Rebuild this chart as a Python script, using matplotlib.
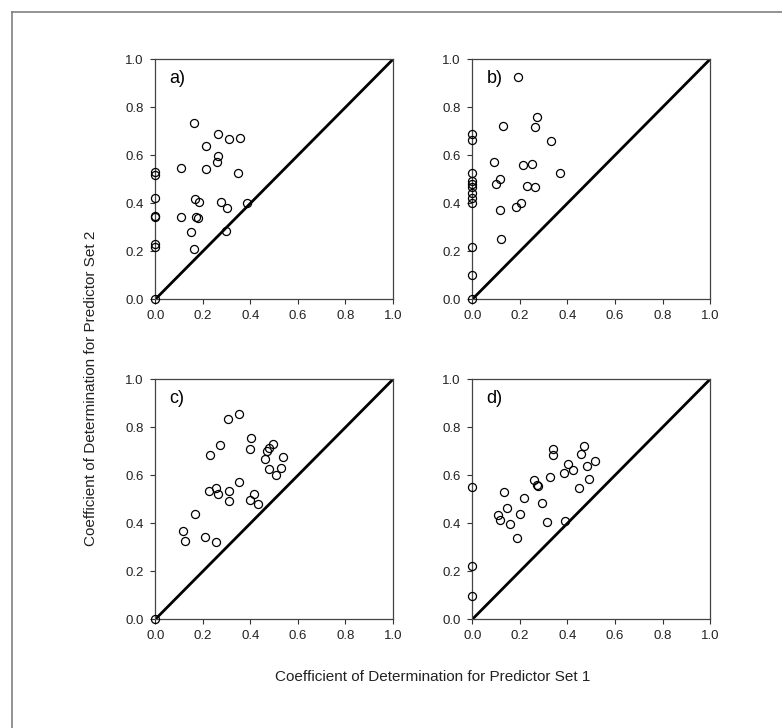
import matplotlib
matplotlib.use("Agg")
import matplotlib.pyplot as plt
from matplotlib.lines import Line2D

plt.rcParams['font.family'] = ['Liberation Sans', 'DejaVu Sans']

# panel a)
a_x = [0, 0, 0, 0, 0, 0, 0, 0, 0.108, 0.108, 0.161, 0.165, 0.182, 0.172, 0.179, 0.151, 0.164,
       0.214, 0.215, 0.262, 0.264, 0.259, 0.312, 0.358, 0.347, 0.276, 0.301, 0.298, 0.387]
a_y = [0.532, 0.518, 0.424, 0.347, 0.344, 0.231, 0.217, 0.0, 0.546, 0.344, 0.735, 0.417, 0.407, 0.344, 0.340, 0.279, 0.208,
       0.639, 0.544, 0.690, 0.596, 0.574, 0.667, 0.672, 0.528, 0.404, 0.379, 0.283, 0.400]

# panel b)
b_x = [0, 0, 0, 0, 0, 0, 0, 0, 0, 0, 0, 0,
       0.194, 0.131, 0.270, 0.263, 0.333, 0.092, 0.213, 0.249, 0.368, 0.099, 0.116,
       0.228, 0.263, 0.116, 0.183, 0.204, 0.120]
b_y = [0.688, 0.664, 0.528, 0.494, 0.481, 0.467, 0.444, 0.424, 0.403, 0.219, 0.101, 0.0,
       0.925, 0.722, 0.760, 0.719, 0.661, 0.574, 0.558, 0.564, 0.525, 0.479, 0.500,
       0.472, 0.469, 0.372, 0.383, 0.400, 0.250]

# panel c)
c_x = [0, 0.116, 0.123, 0.169, 0.207, 0.257, 0.228, 0.273, 0.306, 0.351, 0.227, 0.257, 0.264, 0.308,
       0.312, 0.352, 0.401, 0.400, 0.399, 0.414, 0.432, 0.462, 0.469, 0.480, 0.497, 0.480, 0.509,
       0.529, 0.538]
c_y = [0.0, 0.368, 0.328, 0.439, 0.342, 0.322, 0.685, 0.725, 0.835, 0.857, 0.535, 0.549, 0.521, 0.535,
       0.494, 0.574, 0.756, 0.708, 0.499, 0.524, 0.479, 0.669, 0.700, 0.713, 0.732, 0.628, 0.600,
       0.632, 0.676]

# panel d)
d_x = [0, 0, 0, 0.133, 0.217, 0.144, 0.106, 0.116, 0.157, 0.200, 0.187, 0.260, 0.274, 0.277, 0.294,
       0.325, 0.316, 0.339, 0.340, 0.389, 0.387, 0.402, 0.422, 0.447, 0.456, 0.471, 0.481, 0.491, 0.516]
d_y = [0.553, 0.224, 0.097, 0.529, 0.507, 0.465, 0.435, 0.414, 0.396, 0.439, 0.338, 0.579, 0.560, 0.556, 0.483,
       0.593, 0.406, 0.710, 0.686, 0.411, 0.611, 0.646, 0.622, 0.546, 0.690, 0.722, 0.640, 0.583, 0.661]

panels = [("a)", a_x, a_y), ("b)", b_x, b_y), ("c)", c_x, c_y), ("d)", d_x, d_y)]
ticks = [0.0, 0.2, 0.4, 0.6, 0.8, 1.0]

fig = plt.figure(figsize=(7.82, 7.28), dpi=100)

# partial outer frame (left and top only visible)
fig.add_artist(Line2D([12 / 782, 12 / 782], [0, 1 - 12 / 728], transform=fig.transFigure,
                      color='#808080', linewidth=1.2))
fig.add_artist(Line2D([12 / 782, 1], [1 - 12 / 728, 1 - 12 / 728], transform=fig.transFigure,
                      color='#808080', linewidth=1.2))

lefts = [0.1986, 0.604]
bottoms = [0.5889, 0.1493]
w, h = 0.304, 0.3297

for i, (lab, xs, ys) in enumerate(panels):
    ax = fig.add_axes([lefts[i % 2], bottoms[i // 2], w, h])
    ax.plot([0, 1], [0, 1], color='black', linewidth=2.0, zorder=2)
    ax.plot(xs, ys, linestyle='none', marker='o', markersize=5.8, markerfacecolor='none',
            markeredgecolor='black', markeredgewidth=0.9, zorder=3, clip_on=False)
    ax.set_xlim(0, 1)
    ax.set_ylim(0, 1)
    ax.set_xticks(ticks)
    ax.set_yticks(ticks)
    ax.set_xticklabels([f"{t:.1f}" for t in ticks])
    ax.set_yticklabels([f"{t:.1f}" for t in ticks])
    ax.tick_params(direction='out', length=3.5, width=0.8, colors='#333333', labelsize=9.5,
                   labelcolor='#222222')
    ax.tick_params(axis='y', pad=5)
    ax.tick_params(axis='x', pad=4)
    for s in ax.spines.values():
        s.set_color('#444444')
        s.set_linewidth(0.9)
    ax.text(0.06, 0.92, lab, fontsize=13, ha='left', va='center', transform=ax.transAxes)

fig.text(0.116, 0.466, "Coefficient of Determination for Predictor Set 2", rotation=90,
         ha='center', va='center', fontsize=11, color='#222222')
fig.text(0.553, 0.07, "Coefficient of Determination for Predictor Set 1",
         ha='center', va='center', fontsize=11, color='#222222')

fig.savefig("out.png", dpi=100)
